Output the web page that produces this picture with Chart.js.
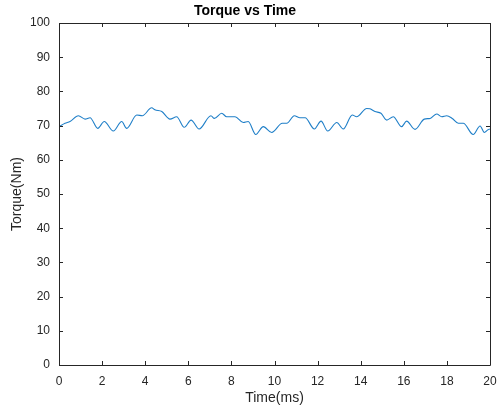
<!DOCTYPE html>
<html>
<head>
<meta charset="utf-8">
<script src="https://cdn.jsdelivr.net/npm/chart.js@4.4.0/dist/chart.umd.min.js"></script>
<style>
  html, body { margin: 0; padding: 0; background: #fff; }
  #wrap { width: 498px; height: 410px; }
</style>
</head>
<body>
<div id="wrap"><canvas id="torqueChart" width="498" height="410"></canvas></div>
<script>
// data
const timeMs = [0.00, 0.28, 0.51, 0.90, 1.21, 1.44, 1.80, 2.10, 2.52, 2.91, 3.14, 3.61, 3.87, 4.30, 4.45, 4.77,
  5.15, 5.46, 5.81, 6.13, 6.50, 7.05, 7.21, 7.55, 7.78, 8.17, 8.55, 8.78, 9.13, 9.48, 9.87, 10.36, 10.57,
  10.92, 11.18, 11.42, 11.85, 12.16, 12.47, 12.89, 13.19, 13.61, 13.81, 14.28, 14.43, 14.66, 14.94, 15.21,
  15.51, 15.90, 16.13, 16.52, 16.95, 17.22, 17.53, 17.76, 17.99, 18.25, 18.53, 18.76, 19.22, 19.54, 19.74,
  19.89, 20.00];
const torqueNm = [69.7, 70.7, 71.2, 72.9, 71.9, 72.3, 69.2, 71.2, 68.4, 71.2, 69.2, 73.1, 72.9, 75.2, 74.6, 74.1,
  71.9, 72.6, 69.5, 71.6, 69.0, 72.9, 72.1, 73.6, 72.6, 72.6, 70.9, 71.2, 67.4, 69.7, 68.0, 70.7, 70.7,
  72.9, 72.3, 72.3, 69.0, 71.3, 68.4, 70.9, 69.0, 73.1, 72.6, 75.0, 74.9, 74.1, 73.6, 71.6,
  72.6, 69.7, 71.3, 68.9, 71.9, 72.1, 73.4, 72.6, 72.9, 72.1, 70.7, 70.7, 67.4, 69.9, 68.0,
  68.7, 69.0];
const xTicks = [0, 2, 4, 6, 8, 10, 12, 14, 16, 18, 20];
const yTicks = [0, 10, 20, 30, 40, 50, 60, 70, 80, 90, 100];

const axisColor = "#262626";
const font = "'Liberation Sans', Arial, sans-serif";

// matlab style box with inward ticks on all four sides
const boxPlugin = {
  id: "box",
  afterDatasetsDraw(chart) {
    const { ctx, chartArea: a, scales } = chart;
    ctx.save();
    ctx.strokeStyle = axisColor;
    ctx.lineWidth = 1;
    ctx.beginPath();
    ctx.rect(Math.round(a.left) + 0.5, Math.round(a.top) + 0.5,
      Math.round(a.right - a.left), Math.round(a.bottom - a.top));
    xTicks.forEach(v => {
      const x = Math.round(scales.x.getPixelForValue(v)) + 0.5;
      ctx.moveTo(x, a.bottom); ctx.lineTo(x, a.bottom - 4);
      ctx.moveTo(x, a.top); ctx.lineTo(x, a.top + 4);
    });
    yTicks.forEach(v => {
      const y = Math.round(scales.y.getPixelForValue(v)) + 0.5;
      ctx.moveTo(a.left, y); ctx.lineTo(a.left + 4, y);
      ctx.moveTo(a.right, y); ctx.lineTo(a.right - 4, y);
    });
    ctx.stroke();
    ctx.restore();
  }
};

new Chart(document.getElementById("torqueChart"), {
  type: "line",
  data: {
    datasets: [{
      data: timeMs.map((t, i) => ({ x: t, y: torqueNm[i] })),
      borderColor: "#1f7fc8",
      borderWidth: 1.1,
      pointRadius: 0,
      tension: 0.4,
      cubicInterpolationMode: "monotone",
      fill: false
    }]
  },
  options: {
    responsive: false,
    animation: false,
    layout: { padding: { left: 0, right: 8, top: 0, bottom: 0 } },
    plugins: {
      legend: { display: false },
      tooltip: { enabled: false },
      title: {
        display: true,
        text: "Torque vs Time",
        color: "#000",
        font: { family: font, size: 14, weight: "bold" },
        padding: { top: 2.5, bottom: 3.7 }
      }
    },
    scales: {
      x: {
        type: "linear",
        min: 0, max: 20,
        afterBuildTicks: s => { s.ticks = xTicks.map(v => ({ value: v })); },
        afterFit: s => { s.height = 45; s.paddingLeft = 0; s.paddingRight = 0; },
        grid: { display: false },
        border: { display: false },
        ticks: { color: axisColor, font: { family: font, size: 12 }, padding: 1, maxRotation: 0 },
        title: { display: true, text: "Time(ms)", color: axisColor, font: { family: font, size: 14 }, padding: { top: 2, bottom: 3 } }
      },
      y: {
        min: 0, max: 100,
        afterBuildTicks: s => { s.ticks = yTicks.map(v => ({ value: v })); },
        afterFit: s => { s.width = 59; s.paddingTop = 0; s.paddingBottom = 0; },
        grid: { display: false },
        border: { display: false },
        ticks: { color: axisColor, font: { family: font, size: 12 }, padding: 1 },
        title: { display: true, text: "Torque(Nm)", color: axisColor, font: { family: font, size: 14 }, padding: { top: 9 } }
      }
    }
  },
  plugins: [boxPlugin]
});
</script>
</body>
</html>
